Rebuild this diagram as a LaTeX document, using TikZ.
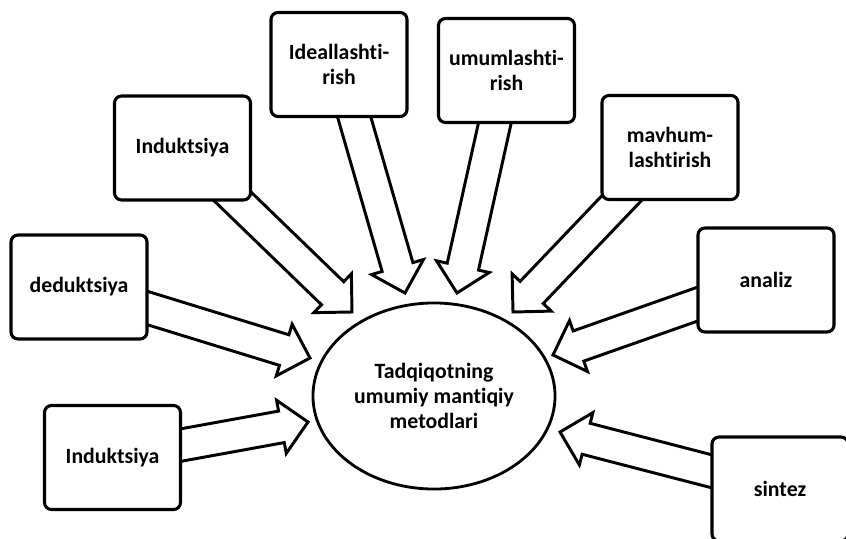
\documentclass[tikz,border=0pt]{standalone}
\usepackage{fontspec}
\setmainfont[Ligatures=NoCommon]{Carlito}
\usetikzlibrary{calc,shapes.geometric,backgrounds}
\tikzset{
  methodbox/.style={draw, line width=2.2pt, fill=white, rounded corners=5pt,
    minimum width=3.4cm, minimum height=2.6cm, align=center, inner sep=2pt},
  hub/.style={draw, line width=2pt, fill=white, ellipse, minimum width=6.05cm,
    minimum height=4.65cm, align=center, inner sep=0pt},
  hollow/.style={line width=2.1pt, line join=miter}
}
\newcommand\hollowarrow[2]{%
  \coordinate (hbase) at ($(#2)!0.675cm!(#1.center)$);
  \draw[hollow] ($(#1.center)!0.4cm!-90:(#2)$) -- ($(hbase)!0.4cm!90:(#1.center)$)
    -- ($(hbase)!0.675cm!90:(#1.center)$) -- (#2) -- ($(hbase)!0.675cm!-90:(#1.center)$)
    -- ($(hbase)!0.4cm!-90:(#1.center)$) -- ($(#1.center)!0.4cm!90:(#2)$);
}

\begin{document}
\begin{tikzpicture}[x=0.025cm, y=-0.025cm,
  font=\fontsize{15.5}{17.7}\selectfont\bfseries]
  \useasboundingbox (0,0) rectangle (846,538);

  \node[hub] (metod) at (434,396) {Tadqiqotning\\umumiy mantiqiy\\metodlari};

  \node[methodbox] (ideal) at (339,64.5) {Ideallashti-\\rish};
  \node[methodbox] (umum) at (506.5,70.5) {umumlashti-\\rish};
  \node[methodbox] (indtop) at (182.5,148) {Induktsiya};
  \node[methodbox] (mavhum) at (670,147.5) {mavhum-\\lashtirish};
  \node[methodbox] (deduk) at (79,287) {deduktsiya};
  \node[methodbox] (analiz) at (766,280) {analiz};
  \node[methodbox] (indbot) at (112.5,457.5) {Induktsiya};
  \node[methodbox] (sintez) at (780,489) {sintez};

  \coordinate (tip-ideal) at (405,293);
  \coordinate (tip-umum) at (457,293);
  \coordinate (tip-indtop) at (352,312);
  \coordinate (tip-mavhum) at (513,312);
  \coordinate (tip-deduk) at (310,358);
  \coordinate (tip-analiz) at (553,355);
  \coordinate (tip-indbot) at (308,422);
  \coordinate (tip-sintez) at (560,432);

  \begin{pgfonlayer}{background}
    \foreach \src in {ideal,umum,indtop,mavhum,deduk,analiz,indbot,sintez}
      \hollowarrow{\src}{tip-\src};
  \end{pgfonlayer}
\end{tikzpicture}
\end{document}
